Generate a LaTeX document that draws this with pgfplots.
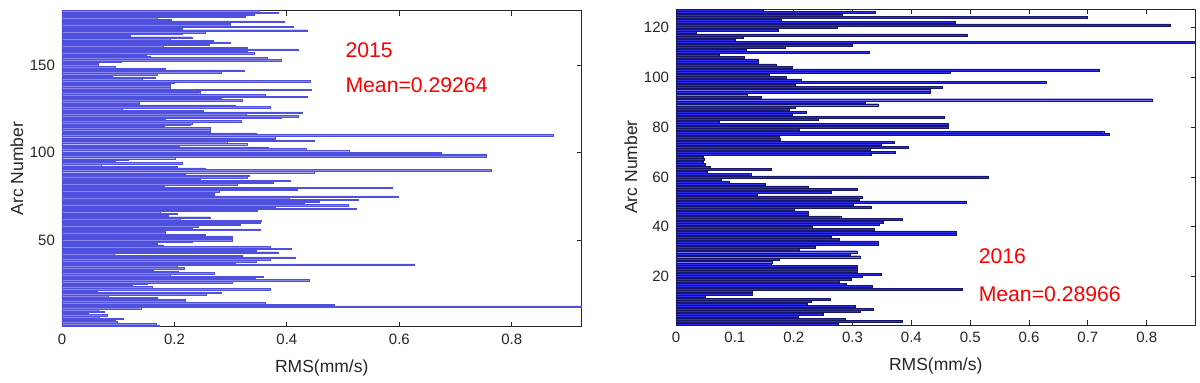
\documentclass[border=0pt]{standalone}
\usepackage{fontspec}
\setmainfont{Liberation Sans}
\usepackage{pgfplots}
\pgfplotsset{compat=1.18}
\usepackage{pgfplotstable}

\definecolor{axisgray}{RGB}{38,38,38}
\definecolor{leftfill}{RGB}{135,135,238}
\definecolor{leftedge}{RGB}{80,80,222}
\definecolor{rightfill}{RGB}{45,45,232}
\definecolor{rightedge}{RGB}{22,22,105}

\pgfplotstableread[row sep=\\]{
a r\\
1 0.172\\ 2 0.167\\ 3 0.098\\ 4 0.094\\ 5 0.109\\ 6 0.067\\ 7 0.080\\ 8 0.047\\ 9 0.075\\ 10 0.065\\
11 0.140\\ 12 0.924\\ 13 0.484\\ 14 0.362\\ 15 0.220\\ 16 0.219\\ 17 0.170\\ 18 0.083\\ 19 0.256\\ 20 0.284\\
21 0.063\\ 22 0.371\\ 23 0.160\\ 24 0.125\\ 25 0.152\\ 26 0.302\\ 27 0.439\\ 28 0.343\\ 29 0.358\\ 30 0.192\\
31 0.270\\ 32 0.207\\ 33 0.163\\ 34 0.217\\ 35 0.205\\ 36 0.627\\ 37 0.308\\ 38 0.346\\ 39 0.370\\ 40 0.414\\
41 0.320\\ 42 0.093\\ 43 0.384\\ 44 0.345\\ 45 0.408\\ 46 0.370\\ 47 0.180\\ 48 0.170\\ 49 0.231\\ 50 0.302\\
51 0.302\\ 52 0.302\\ 53 0.254\\ 54 0.184\\ 55 0.184\\ 56 0.352\\ 57 0.231\\ 58 0.242\\ 59 0.317\\ 60 0.353\\
61 0.354\\ 62 0.210\\ 63 0.263\\ 64 0.189\\ 65 0.205\\ 66 0.175\\ 67 0.347\\ 68 0.524\\ 69 0.380\\ 70 0.509\\
71 0.431\\ 72 0.457\\ 73 0.527\\ 74 0.404\\ 75 0.598\\ 76 0.270\\ 77 0.270\\ 78 0.280\\ 79 0.419\\ 80 0.588\\
81 0.181\\ 82 0.312\\ 83 0.375\\ 84 0.405\\ 85 0.246\\ 86 0.330\\ 87 0.333\\ 88 0.220\\ 89 0.448\\ 90 0.764\\
91 0.254\\ 92 0.205\\ 93 0.069\\ 94 0.214\\ 95 0.095\\ 96 0.118\\ 97 0.201\\ 98 0.755\\ 99 0.755\\ 100 0.675\\
101 0.511\\ 102 0.434\\ 103 0.366\\ 104 0.208\\ 105 0.330\\ 106 0.293\\ 107 0.448\\ 108 0.380\\ 109 0.380\\ 110 0.874\\
111 0.346\\ 112 0.264\\ 113 0.264\\ 114 0.264\\ 115 0.181\\ 116 0.228\\ 117 0.231\\ 118 0.318\\ 119 0.183\\ 120 0.389\\
121 0.420\\ 122 0.327\\ 123 0.428\\ 124 0.252\\ 125 0.107\\ 126 0.371\\ 127 0.308\\ 128 0.137\\ 129 0.137\\ 130 0.321\\
131 0.284\\ 132 0.436\\ 133 0.362\\ 134 0.245\\ 135 0.245\\ 136 0.443\\ 137 0.192\\ 138 0.192\\ 139 0.192\\ 140 0.200\\
141 0.441\\ 142 0.143\\ 143 0.166\\ 144 0.090\\ 145 0.170\\ 146 0.284\\ 147 0.324\\ 148 0.184\\ 149 0.095\\ 150 0.064\\
151 0.064\\ 152 0.106\\ 153 0.389\\ 154 0.365\\ 155 0.157\\ 156 0.149\\ 157 0.341\\ 158 0.330\\ 159 0.420\\ 160 0.330\\
161 0.180\\ 162 0.261\\ 163 0.299\\ 164 0.269\\ 165 0.193\\ 166 0.231\\ 167 0.122\\ 168 0.214\\ 169 0.255\\ 170 0.436\\
171 0.213\\ 172 0.411\\ 173 0.299\\ 174 0.299\\ 175 0.396\\ 176 0.195\\ 177 0.170\\ 178 0.325\\ 179 0.342\\ 180 0.384\\
181 0.350\\
}\lefttab

\pgfplotstableread[row sep=\\]{
a r\\
1 0.275\\ 2 0.385\\ 3 0.287\\ 4 0.208\\ 5 0.251\\ 6 0.313\\ 7 0.335\\ 8 0.305\\ 9 0.223\\ 10 0.230\\
11 0.262\\ 12 0.049\\ 13 0.130\\ 14 0.130\\ 15 0.486\\ 16 0.334\\ 17 0.289\\ 18 0.278\\ 19 0.298\\ 20 0.316\\
21 0.348\\ 22 0.308\\ 23 0.308\\ 24 0.308\\ 25 0.162\\ 26 0.163\\ 27 0.175\\ 28 0.313\\ 29 0.296\\ 30 0.308\\
31 0.210\\ 32 0.237\\ 33 0.344\\ 34 0.344\\ 35 0.278\\ 36 0.264\\ 37 0.476\\ 38 0.476\\ 39 0.337\\ 40 0.231\\
41 0.345\\ 42 0.352\\ 43 0.384\\ 44 0.280\\ 45 0.225\\ 46 0.225\\ 47 0.201\\ 48 0.331\\ 49 0.301\\ 50 0.494\\
51 0.311\\ 52 0.316\\ 53 0.138\\ 54 0.264\\ 55 0.308\\ 56 0.225\\ 57 0.152\\ 58 0.090\\ 59 0.077\\ 60 0.530\\
61 0.127\\ 62 0.053\\ 63 0.162\\ 64 0.058\\ 65 0.050\\ 66 0.046\\ 67 0.048\\ 68 0.046\\ 69 0.331\\ 70 0.372\\
71 0.330\\ 72 0.395\\ 73 0.348\\ 74 0.371\\ 75 0.177\\ 76 0.175\\ 77 0.736\\ 78 0.727\\ 79 0.210\\ 80 0.462\\
81 0.462\\ 82 0.074\\ 83 0.241\\ 84 0.456\\ 85 0.198\\ 86 0.222\\ 87 0.192\\ 88 0.202\\ 89 0.344\\ 90 0.322\\
91 0.810\\ 92 0.145\\ 93 0.121\\ 94 0.432\\ 95 0.432\\ 96 0.452\\ 97 0.202\\ 98 0.629\\ 99 0.213\\ 100 0.187\\
101 0.159\\ 102 0.466\\ 103 0.719\\ 104 0.197\\ 105 0.170\\ 106 0.139\\ 107 0.139\\ 108 0.116\\ 109 0.074\\ 110 0.328\\
111 0.119\\ 112 0.185\\ 113 0.300\\ 114 0.884\\ 115 0.100\\ 116 0.115\\ 117 0.495\\ 118 0.034\\ 119 0.174\\ 120 0.274\\
121 0.840\\ 122 0.474\\ 123 0.179\\ 124 0.699\\ 125 0.283\\ 126 0.338\\ 127 0.148\\
}\righttab

\pgfplotsset{myax/.style={
  scale only axis, width=259.75pt, height=158pt,
  xmin=0,
  axis line style={draw=axisgray, line width=0.4pt},
  tick style={draw=axisgray, line width=0.4pt},
  major tick length=2.5pt, tick align=inside,
  tick label style={font=\fontsize{7.5}{9}\selectfont, text=axisgray},
  label style={font=\fontsize{8.75}{10}\selectfont, text=axisgray},
  /pgf/number format/assume math mode=true,
  xlabel={RMS(mm/s)}, ylabel={Arc Number},
  xlabel style={at={(axis description cs:0.5,-0.131)}, anchor=center},
  ylabel style={at={(axis description cs:-0.087,0.5)}, anchor=center},
}}

\begin{document}
\begin{tikzpicture}
\path[use as bounding box] (0,0) rectangle (600pt,191pt);
\begin{axis}[myax, at={(31pt,27.75pt)}, anchor=south west,
  xmax=0.924, ymin=0.6, ymax=181.4,
  xtick={0,0.2,0.4,0.6,0.8}, xticklabels={0,0.2,0.4,0.6,0.8},
  ytick={50,100,150}]
\addplot[xbar, bar width=0.8, fill=leftfill, draw=leftedge, line width=0.2pt] table[x=r, y=a] {\lefttab};
\node[anchor=west, text=red, font=\fontsize{10.6}{12}\selectfont, inner sep=0pt] at (rel axis cs:0.545,0.874) {2015};
\node[anchor=west, text=red, font=\fontsize{10.6}{12}\selectfont, inner sep=0pt] at (rel axis cs:0.545,0.763) {Mean=0.29264};
\end{axis}
\begin{axis}[myax, at={(338pt,28.5pt)}, anchor=south west,
  xmax=0.883, ymin=0.6, ymax=127.4,
  xtick={0,0.1,0.2,0.3,0.4,0.5,0.6,0.7,0.8}, xticklabels={0,0.1,0.2,0.3,0.4,0.5,0.6,0.7,0.8},
  ytick={20,40,60,80,100,120}]
\addplot[xbar, bar width=0.8, fill=rightfill, draw=rightedge, line width=0.2pt] table[x=r, y=a] {\righttab};
\node[anchor=west, text=red, font=\fontsize{10.6}{12}\selectfont, inner sep=0pt] at (rel axis cs:0.582,0.219) {2016};
\node[anchor=west, text=red, font=\fontsize{10.6}{12}\selectfont, inner sep=0pt] at (rel axis cs:0.582,0.098) {Mean=0.28966};
\end{axis}
\end{tikzpicture}
\end{document}
